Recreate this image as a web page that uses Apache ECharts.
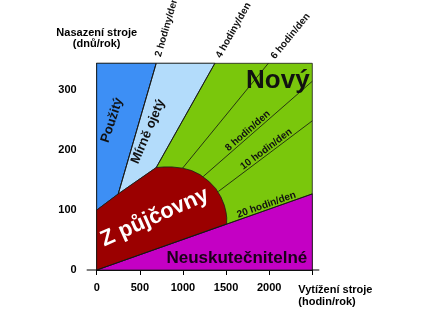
<!DOCTYPE html>
<html>
<head>
<meta charset="utf-8">
<script src="https://cdn.jsdelivr.net/npm/echarts@6/dist/echarts.min.js"></script>
<style>
  html, body { margin: 0; padding: 0; background: #fff; }
  #chart { width: 447px; height: 312px; }
</style>
</head>
<body>
<div id="chart"></div>
<script>
// Axis ranges and tick labels (the last x tick carries the axis name instead of a number)
const xTicks = [0, 500, 1000, 1500, 2000];
const yTicks = [0, 100, 200, 300];
const xMax = 2500;
const yMax = 345;

// Decision regions as [hours per year, days per year] vertices
const newPoly = [[0, 0], [0, 345], [2500, 345], [2500, 0]];
const usedPoly = [[0, 100], [0, 345], [690, 345], [250, 127]];
const lightUsedPoly = [[250, 127], [690, 345], [1370, 345], [690, 171]];
const rentalPoly = [
  [0, 0], [0, 100], [250, 127], [690, 171], [780, 172], [873, 172], [996, 170],
  [1100, 166], [1200, 159], [1300, 148], [1380, 136], [1440, 122],
  [1480, 108], [1500, 96], [1508, 87], [1506, 77]
];
const impossiblePoly = [[0, 0], [2500, 127], [2500, 0]];

// Lines of constant hours per day
const line2h = [[250, 127], [690, 345]];
const line4h = [[690, 171], [1370, 345]];
const line6h = [[996, 170], [1990, 345]];
const line8h = [[1235, 156], [2500, 315]];
const line10h = [[1410, 131], [2500, 249]];
const line20h = [[0, 0], [2500, 127]];

const hourLines = [line2h, line4h, line6h, line8h, line10h, line20h];
const hourLineNames = ['2 hodiny/den', '4 hodiny/den', '6 hodin/den', '8 hodin/den', '10 hodin/den', '20 hodin/den'];

// Region names and the points they sit on
const regionNames = ['Použitý', 'Mírně ojetý', 'Nový', 'Z půjčovny', 'Neuskutečnitelné'];
const regionLabelPoints = [[178, 250], [596, 231], [2100, 316], [673, 88], [1625, 20]];

// ---- styling ----
const FONT = '"Liberation Sans", Arial, Helvetica, sans-serif';
const polys = [newPoly, usedPoly, lightUsedPoly, impossiblePoly, rentalPoly];
const polyFill = ['#7ac70c', '#3d8ff5', '#b3dcfb', '#c400c4', '#9b0000'];

// where along each line (0..1) its label starts; labels past the end sit above the plot
const hourLabelAt = [1, 1, 1, 0.245, 0.28, 0.66];
const regionLabelStyle = [
  { size: 13, color: '#111', rot: 72 },
  { size: 13, color: '#111', rot: 67 },
  { size: 26, color: '#111', rot: 0 },
  { size: 22, color: '#fff', rot: 24 },
  { size: 17, color: '#1a0018', rot: 0 }
];

const chart = echarts.init(document.getElementById('chart'));

chart.setOption({
  animation: false,
  grid: { left: 96.7, right: 134.7, top: 63.3, bottom: 42, containLabel: false },
  xAxis: {
    type: 'value', min: 0, max: xMax, interval: 500,
    name: 'Vytížení stroje\n(hodin/rok)',
    nameLocation: 'end', nameGap: -14, nameMoveOverlap: false,
    nameTextStyle: {
      fontFamily: FONT, fontWeight: 'bold', fontSize: 11, color: '#000',
      align: 'left', verticalAlign: 'top', lineHeight: 12, padding: [14, 0, 0, 0]
    },
    axisLine: { show: true, lineStyle: { color: '#000', width: 1 } },
    axisTick: { show: true, inside: false, length: 5, lineStyle: { color: '#000' } },
    splitLine: { show: false },
    axisLabel: {
      margin: 12, fontFamily: FONT, fontWeight: 'bold', fontSize: 11, color: '#000',
      formatter: v => xTicks.includes(v) ? String(v) : ''
    }
  },
  yAxis: {
    type: 'value', min: 0, max: yMax, interval: 100,
    name: 'Nasazení stroje\n(dnů/rok)',
    nameLocation: 'end', nameGap: 14,
    nameTextStyle: {
      fontFamily: FONT, fontWeight: 'bold', fontSize: 11, color: '#000',
      align: 'center', lineHeight: 11
    },
    axisLine: { show: true, lineStyle: { color: '#000', width: 1 } },
    axisTick: { show: false },
    splitLine: { show: false },
    axisLabel: {
      margin: 20, fontFamily: FONT, fontWeight: 'bold', fontSize: 11, color: '#000',
      formatter: v => yTicks.includes(v) ? String(v) : ''
    }
  },
  series: [
    {
      // coloured regions
      type: 'custom', coordinateSystem: 'cartesian2d', z: 2, silent: true,
      data: polys.map((p, i) => [p[0][0], p[0][1], i]),
      renderItem: (params, api) => {
        const i = params.dataIndex;
        const points = polys[i].map(p => api.coord(p));
        return {
          type: 'polygon',
          shape: { points },
          style: { fill: polyFill[i], stroke: '#1a1a1a', lineWidth: 0.8 }
        };
      }
    },
    {
      // hour-per-day lines and the axis stubs
      type: 'custom', coordinateSystem: 'cartesian2d', z: 3, silent: true, clip: false,
      data: hourLines.map((l, i) => [l[0][0], l[0][1], i]),
      renderItem: (params, api) => {
        const l = hourLines[params.dataIndex];
        const a = api.coord(l[0]);
        const b = api.coord(l[1]);
        const children = [{
          type: 'line',
          shape: { x1: a[0], y1: a[1], x2: b[0], y2: b[1] },
          style: { stroke: '#111', lineWidth: 0.8 }
        }];
        if (params.dataIndex === 0) {
          const o = api.coord([0, 0]);
          const e = api.coord([xMax, 0]);
          children.push({
            type: 'line',
            shape: { x1: o[0] - 10, y1: o[1], x2: o[0], y2: o[1] },
            style: { stroke: '#000', lineWidth: 1 }
          });
          children.push({
            type: 'line',
            shape: { x1: e[0], y1: e[1], x2: e[0] + 7, y2: e[1] },
            style: { stroke: '#000', lineWidth: 1 }
          });
        }
        return { type: 'group', children };
      }
    },
    {
      // labels on the hour lines
      type: 'custom', coordinateSystem: 'cartesian2d', z: 4, silent: true, clip: false,
      data: hourLines.map((l, i) => [l[0][0], l[0][1], i]),
      renderItem: (params, api) => {
        const i = params.dataIndex;
        const l = hourLines[i];
        const a = api.coord(l[0]);
        const b = api.coord(l[1]);
        const dx = b[0] - a[0], dy = b[1] - a[1];
        const len = Math.hypot(dx, dy);
        const t = hourLabelAt[i];
        let x = a[0] + dx * t, y = a[1] + dy * t;
        const top = t >= 1;
        if (top) { x += dx / len * 7; y += dy / len * 7; }
        return {
          type: 'text',
          x, y,
          rotation: Math.atan2(-dy, dx),
          style: {
            text: hourLineNames[i],
            fontFamily: FONT, fontWeight: 'bold', fontSize: 10,
            fill: '#111',
            align: 'left',
            verticalAlign: top ? 'middle' : 'bottom'
          }
        };
      }
    },
    {
      // region names
      type: 'custom', coordinateSystem: 'cartesian2d', z: 5, silent: true, clip: false,
      data: regionLabelPoints.map((p, i) => [p[0], p[1], i]),
      renderItem: (params, api) => {
        const i = params.dataIndex;
        const c = api.coord(regionLabelPoints[i]);
        const s = regionLabelStyle[i];
        return {
          type: 'text',
          x: c[0], y: c[1],
          rotation: s.rot * Math.PI / 180,
          style: {
            text: regionNames[i],
            fontFamily: FONT, fontWeight: 'bold', fontSize: s.size,
            fill: s.color, align: 'center', verticalAlign: 'middle'
          }
        };
      }
    }
  ]
});
</script>
</body>
</html>
